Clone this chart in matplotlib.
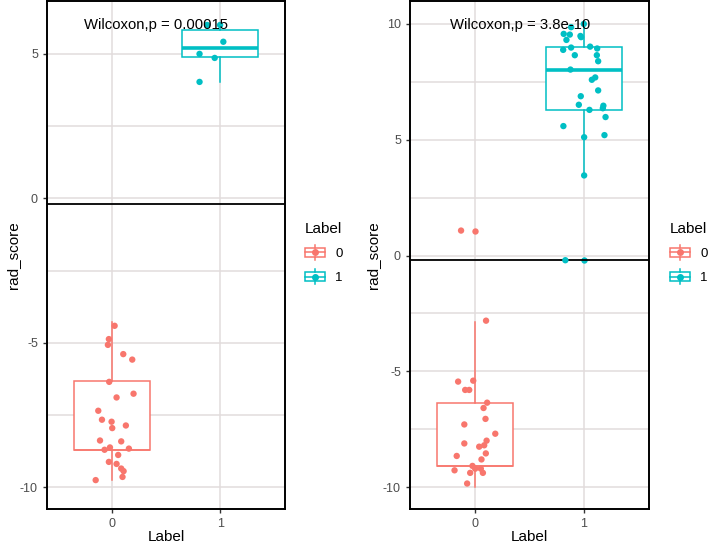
import matplotlib
matplotlib.use('Agg')
import matplotlib.pyplot as plt
from matplotlib.legend_handler import HandlerBase
from matplotlib.patches import Rectangle
from matplotlib.lines import Line2D

plt.rcParams['font.family'] = ['Liberation Sans', 'DejaVu Sans']
plt.rcParams['axes.unicode_minus'] = False

# groups and colours (ggplot defaults)
groups = ['0', '1']
colors = ['#F8766D', '#00BFC4']
cutoff = -0.18

# left panel: jittered points (x = group position + jitter)
left_x0 = [0.025, -0.028, -0.037, 0.105, 0.188, -0.025, 0.043, 0.2, -0.126, -0.092,
           -0.003, 0.129, 0.003, -0.11, 0.086, -0.018, -0.068, 0.157, 0.058, -0.028,
           0.043, 0.086, 0.108, 0.098, -0.15]
left_y0 = [-4.41, -4.87, -5.07, -5.39, -5.58, -6.35, -6.89, -6.76, -7.35, -7.66,
           -7.73, -7.86, -7.95, -8.38, -8.41, -8.62, -8.70, -8.66, -8.88, -9.12,
           -9.19, -9.35, -9.44, -9.64, -9.75]
left_x1 = [0.88, 1.0, 1.03, 0.81, 0.95, 0.81]
left_y1 = [6.0, 6.0, 5.42, 5.0, 4.86, 4.03]

# left panel box stats
left_q1 = [-8.71, 4.90]
left_med = [-8.71, 5.22]
left_q3 = [-6.32, 5.83]
left_lo = [-9.75, 4.03]
left_hi = [-4.27, 6.0]
left_fliers = [[], []]

# right panel points
right_x0 = [0.10, -0.157, -0.018, -0.092, -0.055, 0.11, 0.077, 0.095, -0.10, 0.185,
            0.105, -0.10, 0.083, 0.037, 0.098, -0.17, 0.058, -0.025, 0.0, 0.052,
            -0.19, -0.046, 0.071, -0.074, -0.13]
right_y0 = [-2.81, -5.44, -5.40, -5.80, -5.80, -6.35, -6.58, -7.05, -7.29, -7.69,
            -7.99, -8.11, -8.19, -8.25, -8.54, -8.65, -8.80, -9.08, -9.20, -9.20,
            -9.27, -9.38, -9.38, -9.84, 1.08]
right_x1 = [1.0, 0.883, 0.815, 0.871, 0.969, 0.975, 0.84, 1.058, 0.883, 0.81,
            1.123, 1.12, 0.917, 1.132, 0.877, 1.105, 1.074, 1.132, 0.972, 0.954,
            1.18, 1.052, 1.175, 1.2, 0.812, 1.19, 1.003, 1.003, 0.83]
right_y1 = [10.0, 9.86, 9.57, 9.54, 9.48, 9.43, 9.31, 9.02, 8.98, 8.88,
            8.94, 8.65, 8.65, 8.39, 8.03, 7.69, 7.59, 7.13, 6.88, 6.51,
            6.47, 6.29, 6.36, 5.98, 5.59, 5.20, 5.11, 3.46, -0.2]

right_q1 = [-9.07, 6.28]
right_med = [-9.07, 8.02]
right_q3 = [-6.35, 8.99]
right_lo = [-10.0, 3.46]
right_hi = [-2.85, 10.0]
right_fliers = [[1.08], [-0.2]]

labels = ['Wilcoxon,p = 0.00015', 'Wilcoxon,p = 3.8e-10']


class BoxKey(HandlerBase):
    def create_artists(self, legend, orig_handle, xdescent, ydescent, width, height, fontsize, trans):
        c = orig_handle.get_color()
        x0, y0 = -xdescent, -ydescent
        cx, cy = x0 + width / 2, y0 + height / 2
        rect = Rectangle((x0, y0), width, height, fc='white', ec=c, lw=1.1, transform=trans)
        med = Line2D([x0, x0 + width], [cy, cy], color=c, lw=1.1, transform=trans)
        wt = Line2D([cx, cx], [y0 + height, y0 + height * 1.35], color=c, lw=1.1, transform=trans)
        wb = Line2D([cx, cx], [y0, y0 - height * 0.35], color=c, lw=1.1, transform=trans)
        dot = Line2D([cx], [cy], marker='o', ms=4, color=c, ls='none', transform=trans)
        return [rect, med, wt, wb, dot]


def panel(ax, xs, ys, q1, med, q3, lo, hi, fliers, text, ylim, yticks, yminor):
    for i, c in enumerate(colors):
        st = dict(q1=q1[i], med=med[i], q3=q3[i], whislo=lo[i], whishi=hi[i], fliers=fliers[i])
        mlw = 2.6 if med[i] != q1[i] else 1.1
        ax.bxp([st], positions=[i], widths=0.7, showcaps=False, patch_artist=True,
               boxprops=dict(facecolor='white', edgecolor=c, lw=1.1),
               whiskerprops=dict(color=c, lw=1.1),
               medianprops=dict(color=c, lw=mlw, solid_capstyle='butt'),
               flierprops=dict(marker='o', markerfacecolor=c, markeredgecolor='none', markersize=4.6),
               zorder=2)
    ax.axhline(cutoff, color='black', lw=1.3, zorder=3)
    for i, c in enumerate(colors):
        ax.scatter(xs[i], ys[i], s=21, color=c, edgecolors='none', zorder=4)
    ax.text(0.41, ylim[1] - 0.047 * (ylim[1] - ylim[0]), text, ha='center', va='center',
            fontsize=10.7, color='black', zorder=5)
    ax.set_xlim(-0.6, 1.6)
    ax.set_ylim(*ylim)
    ax.set_xticks([0, 1])
    ax.set_xticklabels(groups)
    ax.set_yticks(yticks)
    ax.set_yticks(yminor, minor=True)
    ax.grid(which='both', color='#E2DCDC', lw=1.1, zorder=0)
    ax.set_axisbelow(True)
    ax.tick_params(which='minor', length=0)
    ax.tick_params(which='major', length=3, width=1, color='#333333', labelcolor='#4D4D4D',
                   labelsize=9, pad=3.5)
    for s in ax.spines.values():
        s.set_color('black')
        s.set_linewidth(1.4)
    ax.set_xlabel('Label', fontsize=11, va='center')
    ax.set_ylabel('rad_score', fontsize=11, va='center')


fig = plt.figure(figsize=(7.08, 5.48), dpi=100)
W, H = 708, 548
axL = fig.add_axes([47 / W, 1 - 509 / H, 238 / W, 508 / H])
axR = fig.add_axes([410 / W, 1 - 509 / H, 239 / W, 508 / H])

panel(axL, [left_x0, left_x1], [left_y0, left_y1], left_q1, left_med, left_q3, left_lo, left_hi,
      left_fliers, labels[0], (-10.75, 6.83), [-10, -5, 0, 5], [-7.5, -2.5, 2.5])
panel(axR, [right_x0, right_x1], [right_y0, right_y1], right_q1, right_med, right_q3, right_lo,
      right_hi, right_fliers, labels[1], (-10.94, 10.99), [-10, -5, 0, 5, 10], [-7.5, -2.5, 2.5, 7.5])

axL.yaxis.set_label_coords((13 - 47) / 238, 0.5)
axR.yaxis.set_label_coords((373 - 410) / 239, 0.5)
for ax in (axL, axR):
    ax.xaxis.set_label_coords(0.5, -(537 - 509) / 508)

handles = [Line2D([], [], color=c) for c in colors]
for xl in (305, 670):
    fig.legend(handles, groups, title='Label', loc='upper left',
               bbox_to_anchor=(xl / W, 1 - 222 / H), frameon=False,
               handler_map={Line2D: BoxKey()}, fontsize=9.5, title_fontsize=11,
               handlelength=1.5, handleheight=0.7, handletextpad=0.8,
               labelspacing=0.9, borderpad=0, borderaxespad=0, alignment='left')

fig.savefig('out.png', dpi=100)
